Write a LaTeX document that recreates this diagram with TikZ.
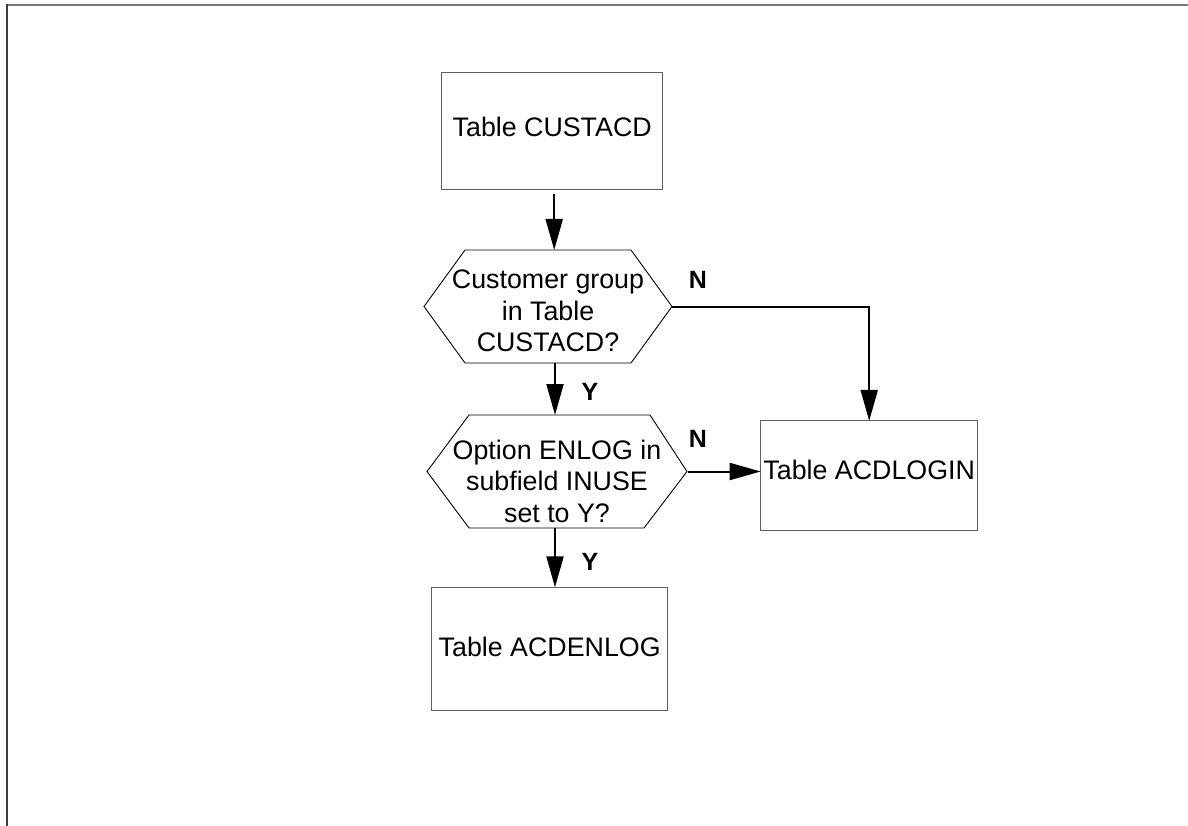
\documentclass[tikz,border=0pt]{standalone}
\usepackage{fontspec}
\setmainfont{Liberation Sans}
\usetikzlibrary{arrows.meta,calc}
\definecolor{boxgray}{RGB}{96,96,96}
\definecolor{frametop}{RGB}{120,120,120}
\definecolor{frameleft}{RGB}{60,60,60}
\begin{document}
\begin{tikzpicture}[x=1pt,y=-1pt,
  txt/.style={font=\fontsize{26.8}{31.5}\selectfont, align=center, inner sep=0pt},
  tablebox/.style={draw=boxgray, line width=1pt, inner sep=0pt, outer sep=0pt, font=\fontsize{26.8}{31.5}\selectfont},
  hexframe/.style={inner sep=0pt, outer sep=0pt},
  hexline/.style={draw=black, line width=0.9pt, line join=miter},
  arr/.style={line width=2pt, -{Triangle[length=31pt,width=17pt]}},
  yn/.style={font=\fontsize{25}{29}\selectfont\bfseries, inner sep=0pt}
]
\useasboundingbox (0,0) rectangle (1188,826);
% frame
\draw[frametop, line width=1.3pt] (1188,5) -- (7,5);
\draw[frameleft, line width=1.3pt] (7,4.4) -- (7,826);

% boxes
\node[tablebox, minimum width=221pt, minimum height=117pt, text depth=8pt] (b1) at (552.2,130.8) {Table CUSTACD};
\node[tablebox, minimum width=217pt, minimum height=110pt, text depth=12pt] (b2) at (869.2,475.9) {Table ACDLOGIN};
\node[tablebox, minimum width=236pt, minimum height=122.7pt, text depth=3pt] (b3) at (549.7,648.7) {Table ACDENLOG};

% hexagon 1
\node[hexframe, minimum width=248pt, minimum height=113pt] (h1) at (548,306.5) {};
\draw[hexline] (h1.west) -- ($(h1.north west)+(41,0)$) -- ($(h1.north east)+(-41,0)$) -- (h1.east)
  -- ($(h1.south east)+(-41,0)$) -- ($(h1.south west)+(41,0)$) -- cycle;
\node[txt] (h1t) at ($(h1.center)+(0,4.5)$) {Customer group\\in Table\\CUSTACD?};

% hexagon 2
\node[hexframe, minimum width=260pt, minimum height=113pt] (h2) at (557,471.5) {};
\draw[hexline] (h2.west) -- ($(h2.north west)+(42,0)$) -- ($(h2.north east)+(-37,0)$) -- (h2.east)
  -- ($(h2.south east)+(-43,0)$) -- ($(h2.south west)+(42,0)$) -- cycle;
\node[txt] (h2t) at ($(h2.center)+(0,9.5)$) {Option ENLOG in\\subfield INUSE\\set to Y?};

% connectors
\draw[arr, shorten <=4.5pt] ([xshift=2pt]b1.south) -- ([xshift=2pt]b1.south |- h1.north);
\draw[arr] ([xshift=7pt]h1.south) -- ([xshift=7pt]h1.south |- h2.north);
\draw[arr] ([xshift=-2pt]h2.south) -- ([xshift=-2pt]h2.south |- b3.north);
\draw[arr] (h1.east) -- (h1.east -| b2.north) -- (b2.north);
\draw[arr, shorten <=1pt] (h2.east) -- (h2.east -| b2.west);

% labels
\node[yn] (n1) at (698,280) {N};
\node[yn] (n2) at (698,438.5) {N};
\node[yn] (y1) at (590,392) {Y};
\node[yn] (y2) at (590,562) {Y};
\end{tikzpicture}
\end{document}
